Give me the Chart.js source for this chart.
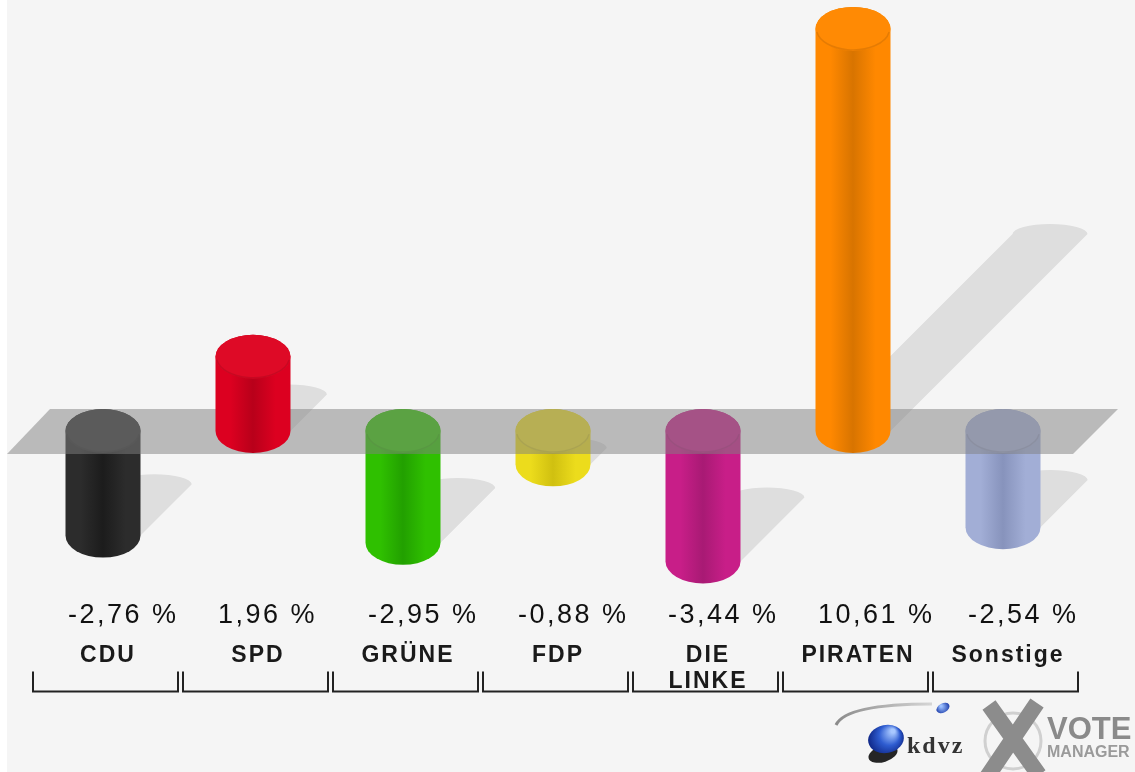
<!DOCTYPE html>
<html>
<head>
<meta charset="utf-8">
<script src="https://cdn.jsdelivr.net/npm/chart.js@4.4.1/dist/chart.umd.min.js"></script>
<style>
  html, body { margin: 0; padding: 0; background: #fff; }
  #wrap { width: 1135px; height: 772px; }
</style>
</head>
<body>
<div id="wrap"><canvas id="chart" width="1135" height="772"></canvas></div>
<script>
'use strict';

// Data
var parties = ['CDU', 'SPD', 'GRÜNE', 'FDP', ['DIE', 'LINKE'], 'PIRATEN', 'Sonstige'];
var changes = [-2.76, 1.96, -2.95, -0.88, -3.44, 10.61, -2.54];

// colours per party: body, dark stripe, top face
var bodyColors = ['#2c2c2c', '#dc0020', '#2fc000', '#ecdc1c', '#c81e88', '#ff8800', '#a2aed6'];
var stripeColors = ['#1c1c1c', '#b8001a', '#22a000', '#d0c010', '#a81a74', '#d87400', '#8793bc'];
var topColors = ['#363636', '#de0a26', '#36c406', '#eede28', '#ca248c', '#ff8a04', '#a8b2d8'];

var CAP_RY = 22;

var formatChange = function (v) {
  return v.toFixed(2).replace('.', ',') + ' %';
};

var bodyGradient = function (ctx, left, w, i) {
  var g = ctx.createLinearGradient(left, 0, left + w, 0);
  g.addColorStop(0, bodyColors[i]);
  g.addColorStop(0.2, bodyColors[i]);
  g.addColorStop(0.5, stripeColors[i]);
  g.addColorStop(0.8, bodyColors[i]);
  g.addColorStop(1, bodyColors[i]);
  return g;
};

var drawCylinder = function (ctx, cx, yTop, yBottom, w, i) {
  var rx = w / 2;
  ctx.fillStyle = bodyGradient(ctx, cx - rx, w, i);
  ctx.beginPath();
  ctx.moveTo(cx - rx, yTop);
  ctx.lineTo(cx - rx, yBottom);
  ctx.ellipse(cx, yBottom, rx, CAP_RY, 0, Math.PI, 0, true);
  ctx.lineTo(cx + rx, yTop);
  ctx.ellipse(cx, yTop, rx, CAP_RY, 0, 0, Math.PI, true);
  ctx.closePath();
  ctx.fill();

  // top face
  ctx.fillStyle = topColors[i];
  ctx.beginPath();
  ctx.ellipse(cx, yTop, rx, CAP_RY, 0, 0, Math.PI * 2);
  ctx.fill();
  ctx.strokeStyle = 'rgba(0,0,0,0.1)';
  ctx.lineWidth = 1.5;
  ctx.beginPath();
  ctx.ellipse(cx, yTop, rx - 1, CAP_RY - 1, 0, 0.15, Math.PI - 0.15);
  ctx.stroke();
};

var drawShadow = function (ctx, cx, y0, h, w, positive) {
  var rx = w / 2;
  var L = h * 0.49;
  var yEnd = positive ? y0 : y0 + h;
  ctx.beginPath();
  ctx.moveTo(cx - rx, yEnd);
  ctx.lineTo(cx + rx, yEnd);
  ctx.lineTo(cx + rx + L, yEnd - L);
  ctx.ellipse(cx + L, yEnd - L, rx, 10, 0, 0, Math.PI, true);
  ctx.closePath();
  ctx.fill();
};

var cylinderPlugin = {
  id: 'cylinders',
  beforeDraw: function (chart) {
    var ctx = chart.ctx;
    ctx.save();
    ctx.fillStyle = '#ffffff';
    ctx.fillRect(0, 0, chart.width, chart.height);
    ctx.fillStyle = '#f5f5f5';
    ctx.fillRect(7, 0, chart.width - 7, chart.height);
    ctx.restore();
  },
  afterDatasetsDraw: function (chart) {
    var ctx = chart.ctx;
    var a = chart.chartArea;
    var y0 = chart.scales.y.getPixelForValue(0);
    var bars = chart.getDatasetMeta(0).data.map(function (el) {
      return el.getProps(['x', 'y', 'base', 'width'], true);
    });

    ctx.save();
    // shadows
    ctx.fillStyle = 'rgba(0,0,0,0.095)';
    bars.forEach(function (b, i) {
      drawShadow(ctx, b.x, y0, Math.abs(b.base - b.y), b.width, changes[i] >= 0);
    });

    // bars below zero sit under the plane
    bars.forEach(function (b, i) {
      if (changes[i] < 0) {
        drawCylinder(ctx, b.x, b.base, b.y, b.width, i);
      }
    });

    // zero plane
    ctx.fillStyle = 'rgba(128,128,128,0.5)';
    ctx.beginPath();
    ctx.moveTo(a.left - 21, y0 + 23);
    ctx.lineTo(a.left + 22, y0 - 22);
    ctx.lineTo(a.right + 40, y0 - 22);
    ctx.lineTo(a.right - 5, y0 + 23);
    ctx.closePath();
    ctx.fill();

    bars.forEach(function (b, i) {
      if (changes[i] >= 0) {
        drawCylinder(ctx, b.x, b.y, b.base, b.width, i);
      }
    });
    ctx.restore();
  },
  afterDraw: function (chart) {
    var ctx = chart.ctx;
    var a = chart.chartArea;
    var xs = chart.scales.x;
    var step = (a.right - a.left) / parties.length;

    ctx.save();
    ctx.textBaseline = 'alphabetic';
    parties.forEach(function (name, i) {
      var cx = xs.getPixelForValue(i);

      // value
      ctx.fillStyle = '#111111';
      ctx.font = '27px "Liberation Sans", Arial, sans-serif';
      ctx.letterSpacing = '2.5px';
      ctx.textAlign = 'left';
      ctx.fillText(formatChange(changes[i]), cx - 35, a.bottom + 40);

      // party name (one or two lines)
      ctx.fillStyle = '#1a1a1a';
      ctx.font = 'bold 23px "Liberation Sans", Arial, sans-serif';
      ctx.letterSpacing = '2px';
      ctx.textAlign = 'center';
      var lines = Array.isArray(name) ? name : [name];
      lines.forEach(function (line, j) {
        ctx.fillText(line, cx + 5, a.bottom + 79 + j * 26);
      });

      // bracket
      var left = cx - step / 2 + 5;
      var right = cx + step / 2;
      ctx.strokeStyle = '#222222';
      ctx.lineWidth = 2;
      ctx.beginPath();
      ctx.moveTo(left, a.bottom + 89);
      ctx.lineTo(left, a.bottom + 109);
      ctx.lineTo(right, a.bottom + 109);
      ctx.lineTo(right, a.bottom + 89);
      ctx.stroke();
    });
    ctx.letterSpacing = '0px';

    drawLogo(ctx);
    ctx.restore();
  }
};

var drawLogo = function (ctx) {
  ctx.save();
  // swoosh
  var sw = ctx.createLinearGradient(835, 0, 935, 0);
  sw.addColorStop(0, '#8a8a8a');
  sw.addColorStop(1, '#d8d8d8');
  ctx.strokeStyle = sw;
  ctx.lineWidth = 3;
  ctx.beginPath();
  ctx.moveTo(836, 725);
  ctx.quadraticCurveTo(846, 704, 932, 704);
  ctx.stroke();

  // small sphere
  var g1 = ctx.createRadialGradient(941, 706, 1, 943, 708, 7);
  g1.addColorStop(0, '#9cc0ff');
  g1.addColorStop(1, '#1a3aa8');
  ctx.fillStyle = g1;
  ctx.beginPath();
  ctx.ellipse(943, 708, 7, 4.5, -0.5, 0, Math.PI * 2);
  ctx.fill();

  // big sphere with its shadow
  ctx.fillStyle = 'rgba(0,0,0,0.85)';
  ctx.beginPath();
  ctx.ellipse(883, 754, 15, 8, -0.3, 0, Math.PI * 2);
  ctx.fill();
  var g2 = ctx.createRadialGradient(893, 731, 2, 886, 739, 19);
  g2.addColorStop(0, '#a8c8ff');
  g2.addColorStop(0.5, '#2e5cd0');
  g2.addColorStop(1, '#0c2280');
  ctx.fillStyle = g2;
  ctx.beginPath();
  ctx.ellipse(886, 739, 18, 14, -0.2, 0, Math.PI * 2);
  ctx.fill();

  ctx.fillStyle = '#333333';
  ctx.font = 'bold 24px "Liberation Serif", serif';
  ctx.letterSpacing = '2px';
  ctx.textAlign = 'left';
  ctx.fillText('kdvz', 907, 753);
  ctx.letterSpacing = '0px';

  // ring and X
  ctx.strokeStyle = '#d0d0d0';
  ctx.lineWidth = 3;
  ctx.beginPath();
  ctx.arc(1013, 741, 28, 0, Math.PI * 2);
  ctx.stroke();
  ctx.strokeStyle = '#8c8c8c';
  ctx.lineWidth = 16;
  ctx.beginPath();
  ctx.moveTo(989, 705);
  ctx.lineTo(1039, 775);
  ctx.moveTo(1037, 703);
  ctx.lineTo(987, 777);
  ctx.stroke();

  ctx.fillStyle = '#8a8a8a';
  ctx.font = 'bold 31px "Liberation Sans", Arial, sans-serif';
  ctx.fillText('VOTE', 1047, 739);
  ctx.fillStyle = '#9a9a9a';
  ctx.font = 'bold 16px "Liberation Sans", Arial, sans-serif';
  ctx.fillText('MANAGER', 1047, 757);
  ctx.restore();
};

var ctx = document.getElementById('chart').getContext('2d');

var chart = new Chart(ctx, {
  type: 'bar',
  data: {
    labels: parties,
    datasets: [{
      label: 'Gewinn/Verlust',
      data: changes,
      backgroundColor: 'rgba(0,0,0,0)',
      borderWidth: 0,
      barPercentage: 0.5,
      categoryPercentage: 1
    }]
  },
  options: {
    responsive: false,
    animation: false,
    events: [],
    layout: {
      padding: { left: 28, right: 57, top: 0, bottom: 189.4 }
    },
    plugins: {
      legend: { display: false },
      tooltip: { enabled: false }
    },
    scales: {
      x: { display: false },
      y: { display: false, min: -4, max: 11.372 }
    }
  },
  plugins: [cylinderPlugin]
});
</script>
</body>
</html>
